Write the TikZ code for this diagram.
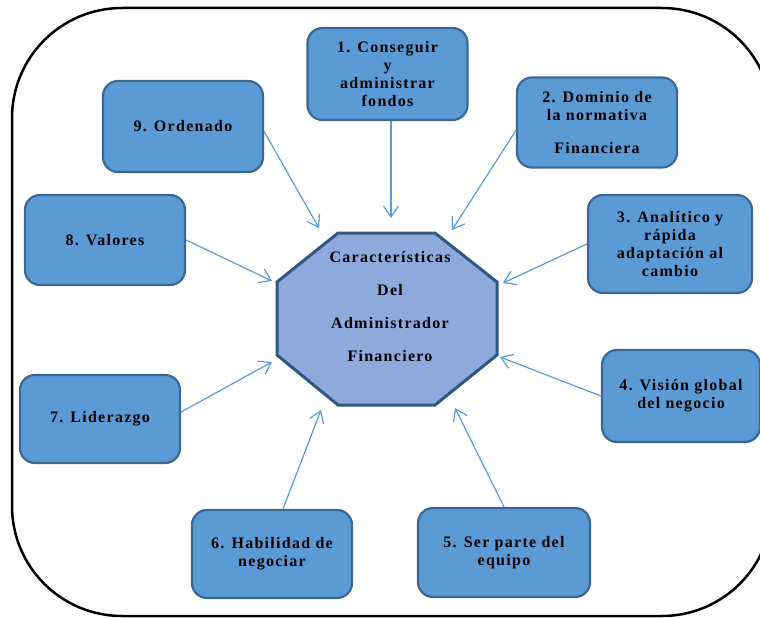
\documentclass[tikz,border=0pt]{standalone}
\usepackage{fontspec}
\setmainfont{Liberation Serif}[LetterSpace=8]
\usepackage{tikz}
\usetikzlibrary{arrows.meta, calc}

\definecolor{cajaazul}{HTML}{5B9BD5}
\definecolor{cajaborde}{HTML}{3A6892}
\definecolor{centrofondo}{HTML}{8EA9DB}
\definecolor{centroborde}{HTML}{2F5880}
\definecolor{flechaazul}{HTML}{5B9BD5}

\begin{document}
\begin{tikzpicture}[x=1pt, y=-1pt,
    caja/.style={draw=cajaborde, line width=2.2pt, fill=cajaazul, rounded corners=15pt,
        minimum width=160pt, minimum height=90pt, inner sep=2pt, align=center,
        font=\bfseries\fontsize{16}{18}\selectfont},
    flecha/.style={draw=flechaazul, line width=1.2pt, -{Straight Barb[length=11pt, width=15pt]}}
]
    \useasboundingbox (0,0) rectangle (760,618);

    % Marco exterior
    \draw[line width=2.5pt, rounded corners=110pt] (12,8) rectangle (772,616);

    % Octagono central
    \coordinate (centro) at (387,319);
    \filldraw[fill=centrofondo, draw=centroborde, line width=3pt, line join=miter]
        ($(centro)+(-49,-86)$) -- ($(centro)+(48,-86)$) -- ($(centro)+(110,-37)$)
        -- ($(centro)+(110,36)$) -- ($(centro)+(48,86)$) -- ($(centro)+(-49,86)$)
        -- ($(centro)+(-110,36)$) -- ($(centro)+(-110,-37)$) -- cycle;
    \node[align=center, font=\bfseries\fontsize{16}{33}\selectfont] (hub) at (390,307)
        {Características\\Del\\Administrador\\Financiero};

    % Cajas
    \node[caja, minimum height=92pt] (c1) at (387.5,74) {1. Conseguir\\y\\administrar\\fondos};
    \node[caja] (c2) at (597,122.5) {2. Dominio de\\la normativa\\[15pt]Financiera};
    \node[caja, minimum width=164pt, minimum height=98pt] (c3) at (670,244) {3. Analítico y\\rápida\\adaptación al\\cambio};
    \node[caja, minimum width=158pt, minimum height=92pt] (c4) at (681,396) {4. Visión global\\del negocio};
    \node[caja, minimum width=172pt, minimum height=89pt] (c5) at (504,552.5) {5. Ser parte del\\equipo};
    \node[caja, minimum height=88pt] (c6) at (272,554) {6. Habilidad de\\negociar};
    \node[caja, minimum height=88pt] (c7) at (100,419) {7. Liderazgo};
    \node[caja] (c8) at (105,240) {8. Valores};
    \node[caja, minimum height=91pt] (c9) at (183,126.5) {9. Ordenado};

    % Puntas de flecha
    \coordinate (p1) at (391,218);
    \coordinate (p2) at (452,230);
    \coordinate (p3) at (503,283);
    \coordinate (p4) at (500,357);
    \coordinate (p5) at (455,408);
    \coordinate (p6) at (321,410);
    \coordinate (p7) at (272,362);
    \coordinate (p8) at (272,281);
    \coordinate (p9) at (319,228);

    % Flechas
    \draw[flecha] ([xshift=3.5pt]c1.south) -- (p1);
    \draw[flecha] ([yshift=-8pt]c2.west) -- (p2);
    \draw[flecha] (c3.west) -- (p3);
    \draw[flecha] (c4.west) -- (p4);
    \draw[flecha] (c5.north) -- (p5);
    \draw[flecha] ([xshift=11pt]c6.north) -- (p6);
    \draw[flecha] ([yshift=7pt]c7.east) -- (p7);
    \draw[flecha] (c8.east) -- (p8);
    \draw[flecha] ([yshift=-5pt]c9.east) -- (p9);
\end{tikzpicture}
\end{document}
